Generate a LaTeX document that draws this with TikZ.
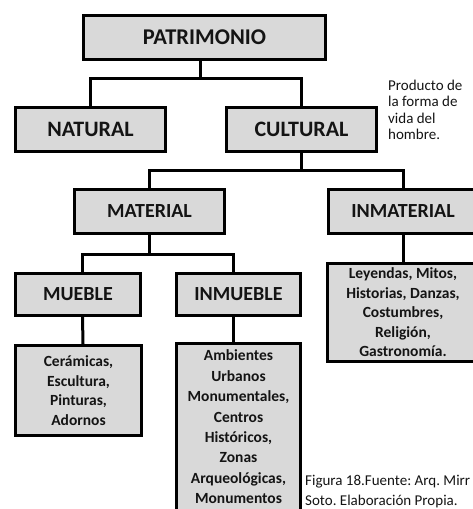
\documentclass[tikz,border=0pt]{standalone}
\usepackage{fontspec}
\setmainfont{Carlito}
\frenchspacing
\definecolor{boxgray}{HTML}{D9D9D9}
\definecolor{ink}{HTML}{141414}
\begin{document}
\begin{tikzpicture}[x=1pt,y=-1pt,
  box/.style={draw=black, line width=3pt, fill=boxgray, inner sep=0pt, align=center, text=ink},
  conn/.style={draw=black, line width=3pt},
  big/.style={font=\bfseries\fontsize{22}{26}\selectfont},
  mid/.style={font=\bfseries\fontsize{20}{24}\selectfont},
  list/.style={font=\bfseries\fontsize{15.5}{19.5}\selectfont},
  note/.style={inner sep=0pt, align=left, text=ink}
]
\useasboundingbox (0,0) rectangle (473,509);
\clip (0,0) rectangle (473,509);

% level 1
\node[box, font=\bfseries\fontsize{22.5}{27}\selectfont, minimum width=242pt, minimum height=44pt] (pat) at (204.5,37.5) {PATRIMONIO};
% level 2
\node[box, big, minimum width=150pt, minimum height=44pt] (nat) at (90.5,129.5) {NATURAL};
\node[box, big, minimum width=150pt, minimum height=44pt] (cul) at (301.5,129.5) {CULTURAL};
% level 3
\node[box, mid, minimum width=150pt, minimum height=44pt] (mat) at (149.5,211.5) {MATERIAL};
\node[box, mid, minimum width=150pt, minimum height=44pt] (inm) at (403,211.5) {INMATERIAL};
% level 4
\node[box, mid, minimum width=125pt, minimum height=42pt] (mue) at (78,294.5) {MUEBLE};
\node[box, mid, minimum width=124pt, minimum height=42pt] (inmu) at (238.5,294.5) {INMUEBLE};
\node[box, list, minimum width=151pt, minimum height=98pt] (ley) at (403,312.5)
  {Leyendas, Mitos,\\Historias, Danzas,\\Costumbres,\\Religión,\\Gastronomía.};
% level 5
\node[box, list, minimum width=126pt, minimum height=90pt] (cer) at (78.5,390.5)
  {Cerámicas,\\Escultura,\\Pinturas,\\Adornos};
\node[box, font=\bfseries\fontsize{15.5}{20.4}\selectfont, minimum width=124pt, minimum height=168pt] (amb) at (238.5,427)
  {Ambientes\\Urbanos\\Monumentales,\\Centros\\Históricos,\\Zonas\\Arqueológicas,\\Monumentos};

% notes
\node[note, anchor=north west, font=\fontsize{15}{16.3}\selectfont] (prod) at (388,80)
  {Producto de\\la forma de\\vida del\\hombre.};
\node[note, anchor=north west, font=\fontsize{15}{19.8}\selectfont] (fig) at (305,475)
  {Figura 18.Fuente: Arq. Mirr\\Soto. Elaboración Propia.};

% connectors
\coordinate (b1) at (0,78);
\coordinate (b2) at (0,170);
\coordinate (b3) at (0,254);
\draw[conn] ([xshift=-4.5pt]pat.south) -- ([xshift=-4.5pt]pat.south |- b1);
\draw[conn] (nat.north) -- (nat.north |- b1) -- (cul.north |- b1) -- (cul.north);
\draw[conn] (cul.south) -- (cul.south |- b2);
\draw[conn] (mat.north) -- (mat.north |- b2) -- (inm.north |- b2) -- (inm.north);
\draw[conn] (mat.south) -- (mat.south |- b3);
\draw[conn] ([xshift=4.5pt]mue.north) -- ([xshift=4.5pt]mue.north |- b3) -- ([xshift=-5pt]inmu.north |- b3) -- ([xshift=-5pt]inmu.north);
\draw[conn] (inm.south) -- (ley.north);
\draw[conn] ([xshift=4.5pt]mue.south) -- ([xshift=4.5pt]cer.north);
\draw[conn] ([xshift=-5pt]inmu.south) -- ([xshift=-5pt]amb.north);
\end{tikzpicture}
\end{document}
